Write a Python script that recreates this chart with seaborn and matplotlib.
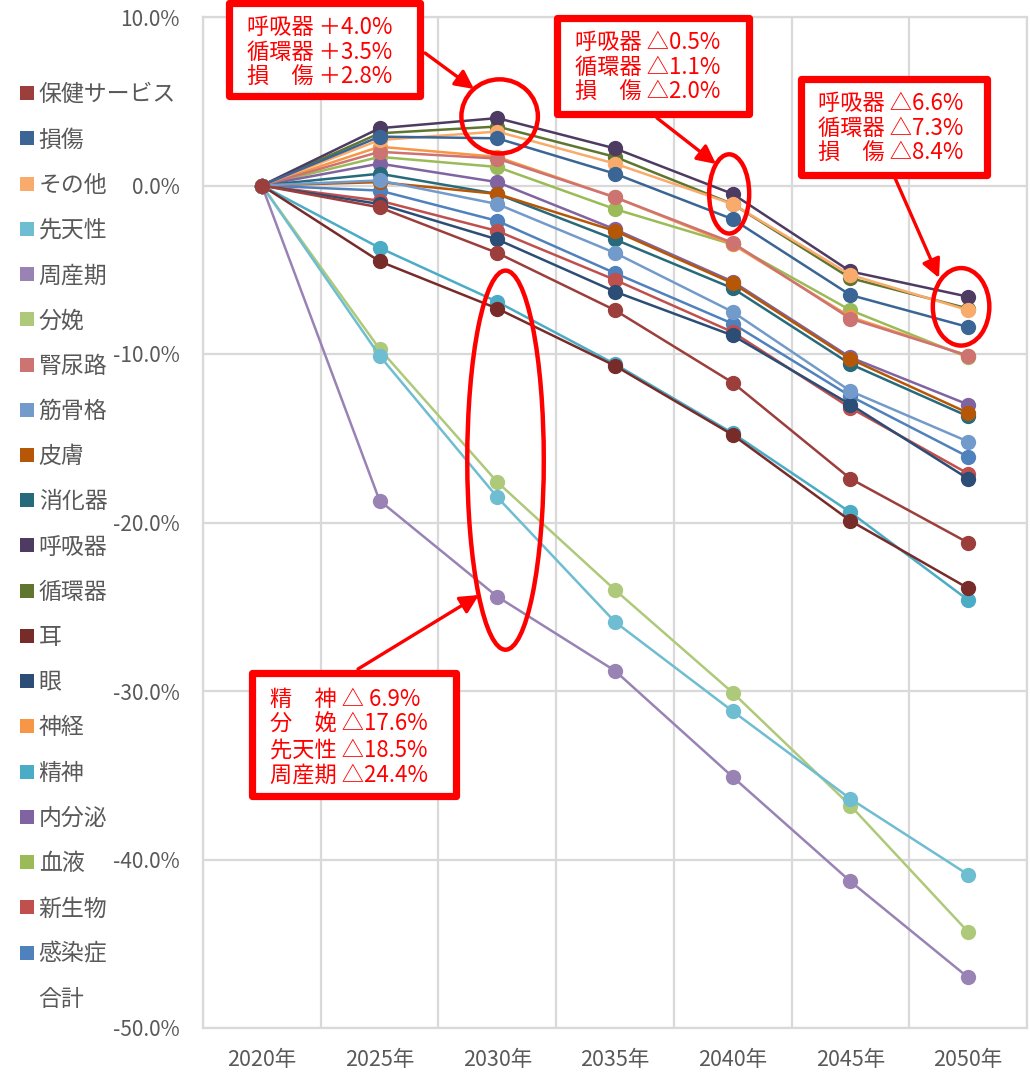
"""Change rate of medical expenditure by disease category, 2020 to 2050."""

import matplotlib
import matplotlib.pyplot as plt
import pandas as pd
import seaborn as sns
from matplotlib.lines import Line2D
from matplotlib.patches import Ellipse, FancyArrowPatch, Rectangle

matplotlib.use("Agg")

YEARS = ["2020年", "2025年", "2030年", "2035年", "2040年", "2045年", "2050年"]

# change from 2020, in percent
kansen = [0.0, -0.3, -2.1, -5.2, -8.2, -12.5, -16.1]
shinsei = [0.0, -0.9, -2.7, -5.6, -8.7, -13.2, -17.1]
ketsueki = [0.0, 1.7, 1.1, -1.4, -3.5, -7.4, -10.2]
naibunpi = [0.0, 1.3, 0.2, -2.6, -5.7, -10.2, -13.0]
seishin = [0.0, -3.7, -6.9, -10.6, -14.7, -19.4, -24.6]
shinkei = [0.0, 2.3, 1.7, -0.7, -3.5, -7.8, -10.1]
me = [0.0, -1.1, -3.2, -6.3, -8.9, -13.0, -17.4]
mimi = [0.0, -4.5, -7.3, -10.7, -14.8, -19.9, -23.9]
junkan = [0.0, 3.1, 3.5, 1.7, -1.1, -5.5, -7.3]
kokyu = [0.0, 3.4, 4.0, 2.2, -0.5, -5.1, -6.6]
shoka = [0.0, 0.7, -0.5, -3.2, -6.1, -10.6, -13.7]
hifu = [0.0, 0.2, -0.5, -2.7, -5.8, -10.3, -13.5]
kinkokkaku = [0.0, 0.3, -1.1, -4.0, -7.5, -12.2, -15.2]
jinnyoro = [0.0, 2.0, 1.6, -0.7, -3.4, -7.9, -10.1]
bunben = [0.0, -9.7, -17.6, -24.0, -30.1, -36.8, -44.3]
shusanki = [0.0, -18.7, -24.4, -28.8, -35.1, -41.3, -47.0]
sentensei = [0.0, -10.1, -18.5, -25.9, -31.2, -36.4, -40.9]
sonota = [0.0, 2.7, 3.2, 1.3, -1.1, -5.3, -7.4]
sonsho = [0.0, 2.9, 2.8, 0.7, -2.0, -6.5, -8.4]
hoken = [0.0, -1.3, -4.0, -7.4, -11.7, -17.4, -21.2]

# drawing order (later ones end up on top); legend lists them reversed
SERIES = {
    "感染症": kansen,
    "新生物": shinsei,
    "血液": ketsueki,
    "内分泌": naibunpi,
    "精神": seishin,
    "神経": shinkei,
    "眼": me,
    "耳": mimi,
    "循環器": junkan,
    "呼吸器": kokyu,
    "消化器": shoka,
    "皮膚": hifu,
    "筋骨格": kinkokkaku,
    "腎尿路": jinnyoro,
    "分娩": bunben,
    "周産期": shusanki,
    "先天性": sentensei,
    "その他": sonota,
    "損傷": sonsho,
    "保健サービス": hoken,
}

COLORS = {
    "感染症": "#4F81BD",
    "新生物": "#C0504D",
    "血液": "#9BBB59",
    "内分泌": "#8064A2",
    "精神": "#4BACC6",
    "神経": "#F79646",
    "眼": "#2C4D75",
    "耳": "#772C2A",
    "循環器": "#5F7530",
    "呼吸器": "#4D3B62",
    "消化器": "#276A7C",
    "皮膚": "#B65708",
    "筋骨格": "#729ACA",
    "腎尿路": "#CD7371",
    "分娩": "#AFC97A",
    "周産期": "#9983B5",
    "先天性": "#6FBDD1",
    "その他": "#F9AB6B",
    "損傷": "#3A6595",
    "保健サービス": "#9C3E3B",
}

NOTES = [
    ["呼吸器 ＋4.0%", "循環器 ＋3.5%", "損　傷 ＋2.8%"],
    ["呼吸器 △0.5%", "循環器 △1.1%", "損　傷 △2.0%"],
    ["呼吸器 △6.6%", "循環器 △7.3%", "損　傷 △8.4%"],
    ["精　神 △ 6.9%", "分　娩 △17.6%", "先天性 △18.5%", "周産期 △24.4%"],
]

W, H = 1030, 1081
GRID = "#D9D9D9"
TEXT = "#595959"
RED = "#FF0000"


def fxy(x, y):
    """Pixel position (from top-left) to figure fraction."""
    return x / W, 1 - y / H


rows = []
for name, values in SERIES.items():
    for pos, value in enumerate(values):
        rows.append({"pos": pos, "value": value, "category": name})
df = pd.DataFrame(rows)

sns.set_theme(style="white")
plt.rcParams["font.family"] = ["Noto Sans CJK JP", "DejaVu Sans"]

fig = plt.figure(figsize=(W / 100, H / 100), dpi=100)
ax = fig.add_axes([203 / W, 1 - 1028 / H, (1027 - 203) / W, (1028 - 17) / H])

sns.lineplot(
    data=df,
    x="pos",
    y="value",
    hue="category",
    hue_order=list(SERIES),
    palette=COLORS,
    marker="o",
    markersize=11,
    markeredgewidth=0,
    linewidth=1.8,
    errorbar=None,
    sort=False,
    legend=False,
    ax=ax,
)

ax.set_xlim(-0.5, len(YEARS) - 0.5)
ax.set_ylim(-50, 10)
ax.set_xticks(range(len(YEARS)))
ax.set_xticklabels(YEARS)
ax.set_xticks([i - 0.5 for i in range(len(YEARS) + 1)], minor=True)
yticks = list(range(-50, 11, 10))
ax.set_yticks(yticks)
ax.set_yticklabels([f"{v:.1f}%" for v in yticks])
ax.set_xlabel("")
ax.set_ylabel("")
ax.grid(which="minor", axis="x", color=GRID, linewidth=1.6)
ax.grid(which="major", axis="y", color=GRID, linewidth=1.6)
ax.grid(which="major", axis="x", visible=False)
ax.set_axisbelow(True)
ax.tick_params(which="both", length=0)
ax.tick_params(axis="y", labelsize=15, labelcolor=TEXT, pad=17)
ax.tick_params(axis="x", labelsize=15.5, labelcolor=TEXT, pad=15)
for spine in ax.spines.values():
    spine.set_color(GRID)
    spine.set_linewidth(1.6)

# legend: square swatches, last entry 合計 without a swatch
handles = [
    Line2D([], [], marker="s", linestyle="none", markersize=10,
           markerfacecolor=COLORS[name], markeredgewidth=0)
    for name in reversed(list(SERIES))
]
labels = list(reversed(list(SERIES)))
handles.append(Line2D([], [], marker="s", linestyle="none", markersize=10,
                      markerfacecolor="none", markeredgewidth=0))
labels.append("合計")
fig.legend(
    handles,
    labels,
    loc="center left",
    bbox_to_anchor=fxy(10, 547),
    frameon=False,
    fontsize=16.5,
    labelcolor=TEXT,
    handlelength=0.65,
    handletextpad=0.2,
    labelspacing=0.97,
    borderaxespad=0,
)

# red call-out boxes
boxes = [(225, 0, 423, 100), (553, 14, 752, 117), (797, 75, 990, 178), (248, 670, 459, 799)]
text_left = [247, 575, 818, 270]
text_top = [27, 42, 103, 699]
for (x0, y0, x1, y1), tx, ty, lines in zip(boxes, text_left, text_top, NOTES):
    inset = 3.5
    left, bottom = fxy(x0 + inset, y1 - inset)
    right, top = fxy(x1 - inset, y0 + inset)
    fig.add_artist(Rectangle((left, bottom), right - left, top - bottom,
                             transform=fig.transFigure, facecolor="white",
                             edgecolor=RED, linewidth=5.2, joinstyle="round"))
    for i, line in enumerate(lines):
        fig.text(*fxy(tx, ty + i * 25.3), line, color=RED, fontsize=16,
                 ha="left", va="center")

# arrows from the boxes to the circled points
arrows = [((425, 53), (474, 89)), ((657, 118), (716, 164)),
          ((895, 178), (939, 278)), ((358, 669), (479, 595))]
for start, end in arrows:
    fig.add_artist(FancyArrowPatch(fxy(*start), fxy(*end), transform=fig.transFigure,
                                   arrowstyle="-|>", mutation_scale=28,
                                   color=RED, linewidth=2.4, shrinkA=0, shrinkB=0))

# ellipses around the highlighted points (data coordinates)
for cx, cy, w, h in [(2.02, 4.1, 0.65, 4.4), (3.97, -0.5, 0.34, 4.7),
                     (5.94, -7.2, 0.48, 4.6), (2.07, -16.3, 0.65, 22.5)]:
    ax.add_patch(Ellipse((cx, cy), w, h, facecolor="none", edgecolor=RED,
                         linewidth=3.2, clip_on=False, zorder=5))

fig.savefig("out.png", dpi=100)
